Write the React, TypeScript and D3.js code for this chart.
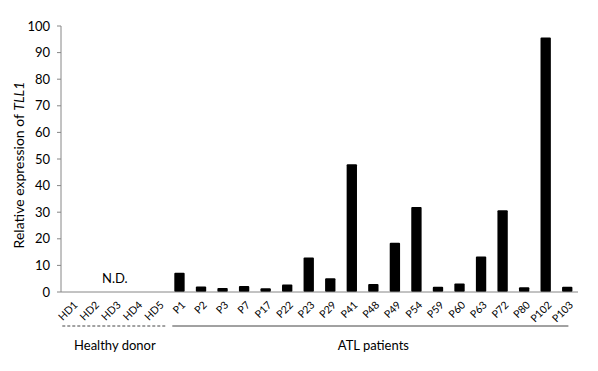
import * as d3 from "d3";

const donors = ["HD1", "HD2", "HD3", "HD4", "HD5"];
const patients = [
  "P1", "P2", "P3", "P7", "P17", "P22", "P23", "P29", "P41", "P48",
  "P49", "P54", "P59", "P60", "P63", "P72", "P80", "P102", "P103",
];
const patientValues = [
  7.2, 2.1, 1.5, 2.3, 1.4, 2.8, 13, 5.2, 48, 3,
  18.5, 32, 2, 3.2, 13.3, 30.7, 1.8, 95.7, 2,
];
const yTicks = [0, 10, 20, 30, 40, 50, 60, 70, 80, 90, 100];

const width = 598;
const height = 371;
const margin = { left: 61, right: 20, top: 26, bottom: 79 };
const font = "Lato, 'Open Sans', sans-serif";

const App = () => {
  const categories = [...donors, ...patients];
  const x = d3
    .scaleBand()
    .domain(categories)
    .range([margin.left, width - margin.right])
    .paddingInner(0.52)
    .paddingOuter(0.26);
  const y = d3
    .scaleLinear()
    .domain([0, 100])
    .range([height - margin.bottom, margin.top]);

  const y0 = y(0);
  const step = x.step();
  const cx = (c) => x(c) + x.bandwidth() / 2;
  const lineY = 326;

  return (
    <svg
      width={width}
      height={height}
      style={{ position: "absolute", left: 0, top: 0, background: "white" }}
    >
      {/* y axis */}
      <line x1={margin.left} x2={margin.left} y1={y(100)} y2={y0} stroke="#868686" />
      {yTicks.map((t) => (
        <g key={t}>
          <line x1={margin.left - 4} x2={margin.left} y1={y(t)} y2={y(t)} stroke="#868686" />
          <text
            x={margin.left - 11}
            y={y(t)}
            dy="0.35em"
            textAnchor="end"
            fontSize={13}
            fontFamily={font}
            fill="#000"
          >
            {t}
          </text>
        </g>
      ))}
      <text
        transform={`translate(24,${(y(100) + y0) / 2 + 6}) rotate(-90)`}
        textAnchor="middle"
        fontSize={14}
        fontFamily={font}
      >
        Relative expression of <tspan fontStyle="italic">TLL1</tspan>
      </text>

      {/* bars */}
      {patients.map((p, i) => (
        <rect
          key={p}
          x={x(p)}
          y={y(patientValues[i])}
          width={x.bandwidth()}
          height={y0 - y(patientValues[i])}
          rx={1}
          fill="#000"
        />
      ))}

      {/* x axis */}
      <line x1={margin.left} x2={width - margin.right} y1={y0} y2={y0} stroke="#868686" />
      {categories.map((c) => (
        <text
          key={c}
          transform={`translate(${cx(c) + 4},${y0 + 11}) rotate(-45)`}
          textAnchor="end"
          dy="0.35em"
          fontSize={10.5}
          fontFamily={font}
        >
          {c}
        </text>
      ))}

      <text x={cx("HD3")} y={y(3.5)} textAnchor="middle" fontSize={13} fontFamily={font}>
        N.D.
      </text>

      {/* group brackets */}
      <line
        x1={x("HD1") - step * 0.2}
        x2={x("HD5") + x.bandwidth() + step * 0.1}
        y1={lineY}
        y2={lineY}
        stroke="#444"
        strokeDasharray="3,2"
      />
      <line
        x1={x("P1") - 2}
        x2={x("P103") + x.bandwidth() - 4}
        y1={lineY}
        y2={lineY}
        stroke="#444"
      />
      <text
        x={(x("HD1") + x("HD5") + x.bandwidth()) / 2}
        y={350}
        textAnchor="middle"
        fontSize={13}
        fontFamily={font}
      >
        Healthy donor
      </text>
      <text
        x={(x("P1") + x("P103") + x.bandwidth()) / 2}
        y={350}
        textAnchor="middle"
        fontSize={13}
        fontFamily={font}
      >
        ATL patients
      </text>
    </svg>
  );
};

export default App;
